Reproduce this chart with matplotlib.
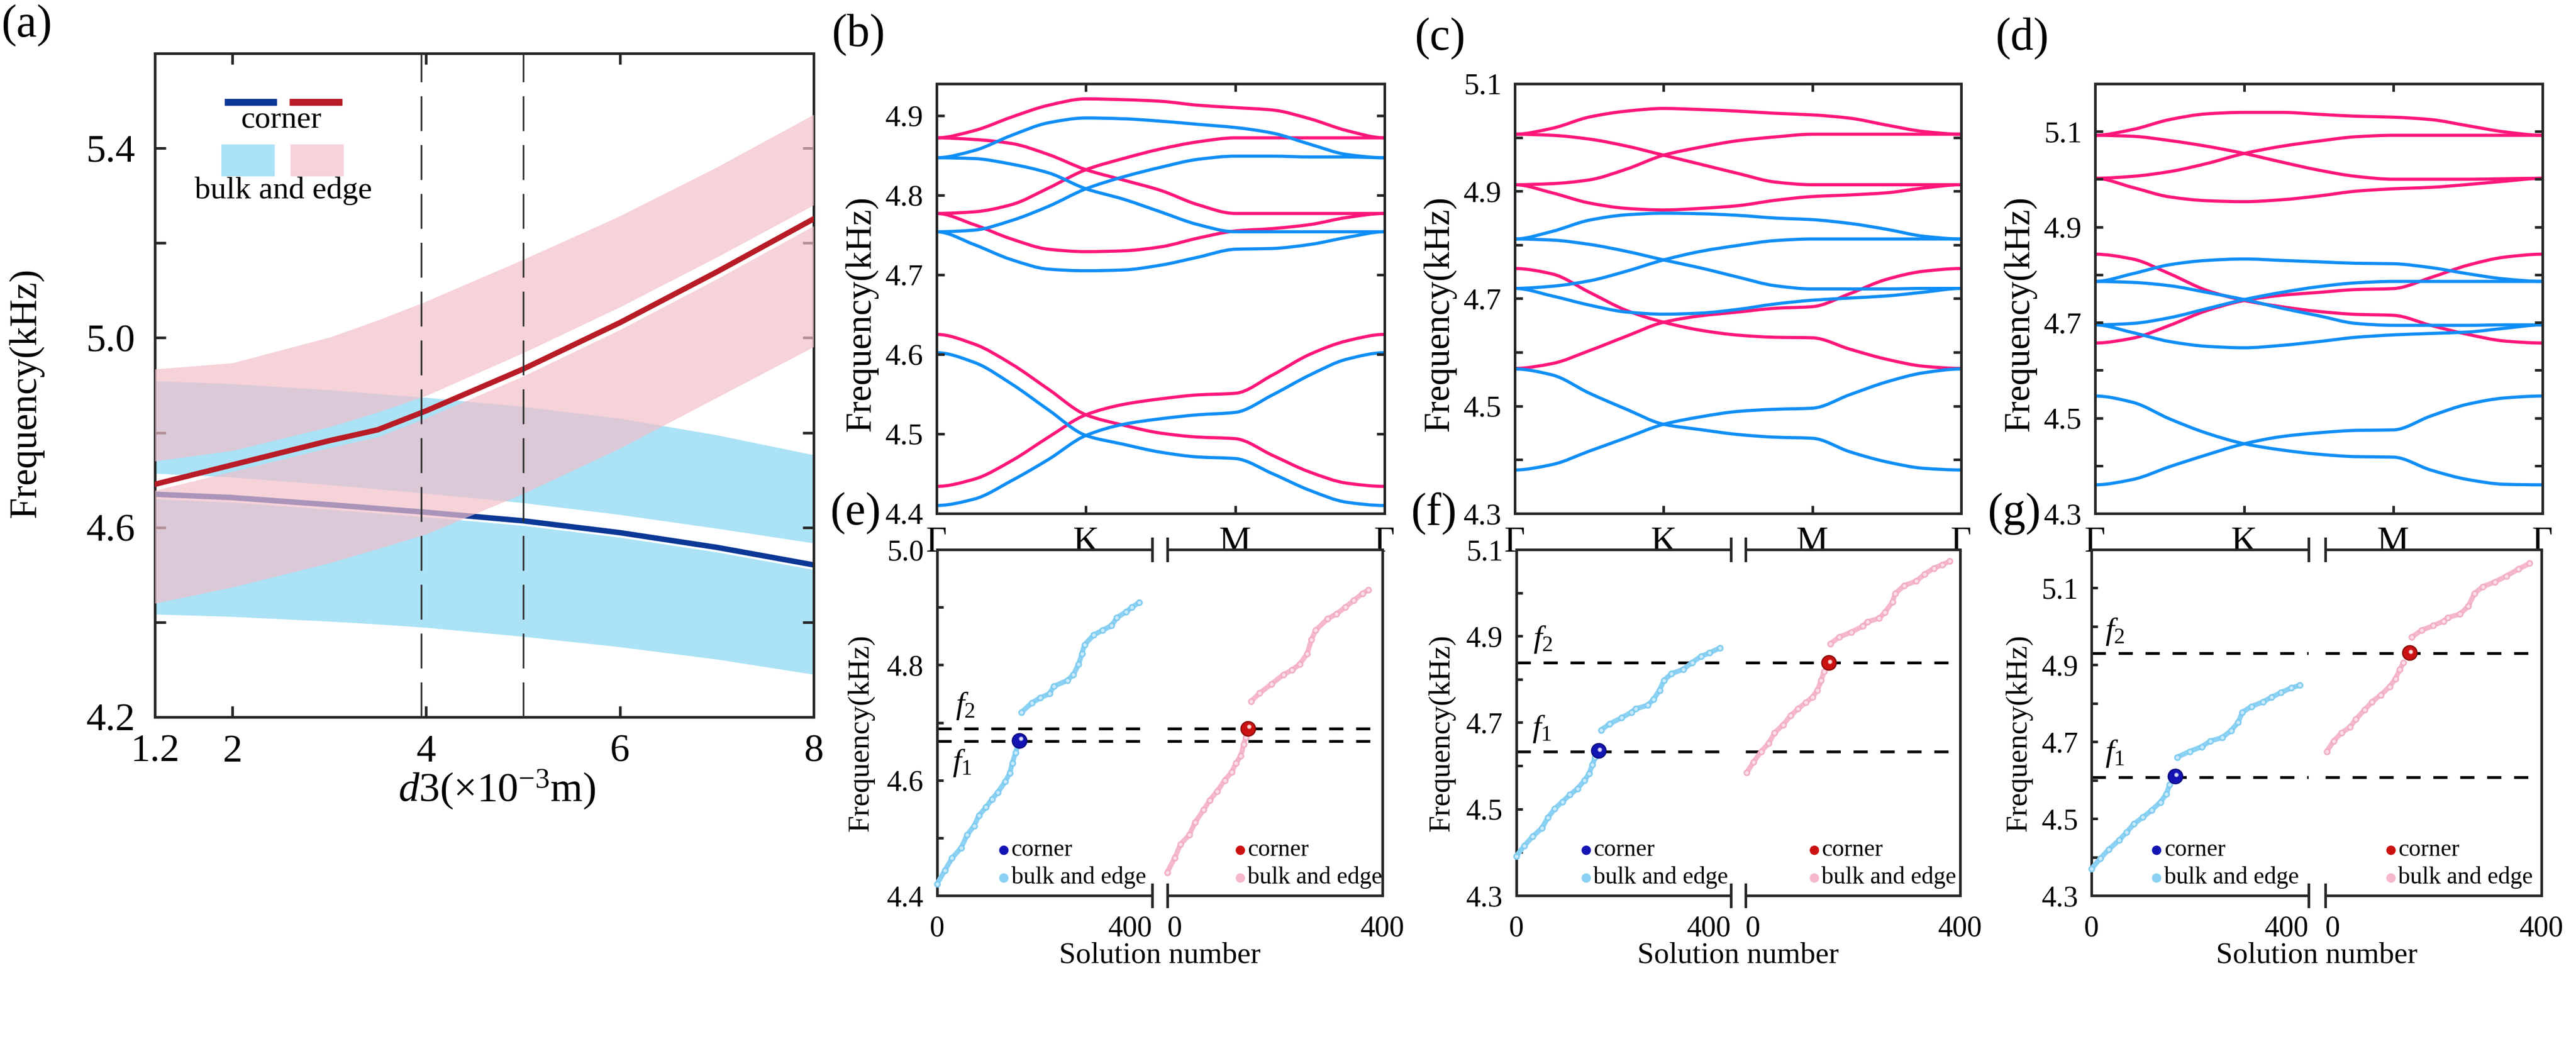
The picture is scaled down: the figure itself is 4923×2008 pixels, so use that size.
import numpy as np
import matplotlib
matplotlib.use("Agg")
import matplotlib.pyplot as plt
from matplotlib.patches import Rectangle, PathPatch
from matplotlib.path import Path

plt.rcParams['font.family'] = ['Liberation Serif', 'DejaVu Serif']
plt.rcParams['mathtext.fontset'] = 'custom'
plt.rcParams['mathtext.rm'] = 'Liberation Serif'
plt.rcParams['mathtext.it'] = 'Liberation Serif:italic'

# ---------------- panel (a) data ----------------
d3 = [1.2, 2, 3, 3.5, 4, 5, 6, 7, 8]
corner_red = [4.691, 4.732, 4.783, 4.806, 4.846, 4.934, 5.032, 5.139, 5.251]
corner_blue = [4.670, 4.663, 4.648, 4.640, 4.632, 4.614, 4.589, 4.558, 4.521]
pink_up_top = [4.934, 4.947, 5.001, 5.037, 5.077, 5.165, 5.257, 5.360, 5.471]
pink_up_bot = [4.740, 4.762, 4.812, 4.843, 4.878, 4.968, 5.065, 5.170, 5.280]
pink_lo_top = [4.678, 4.718, 4.768, 4.791, 4.831, 4.919, 5.017, 5.124, 5.236]
pink_lo_bot = [4.440, 4.474, 4.525, 4.555, 4.586, 4.671, 4.767, 4.874, 4.981]
blue_up_top = [4.909, 4.903, 4.890, 4.882, 4.874, 4.855, 4.830, 4.795, 4.753]
blue_up_bot = [4.714, 4.706, 4.690, 4.681, 4.672, 4.652, 4.627, 4.598, 4.567]
blue_lo_top = [4.660, 4.653, 4.638, 4.630, 4.622, 4.604, 4.579, 4.548, 4.511]
blue_lo_bot = [4.417, 4.412, 4.402, 4.396, 4.389, 4.370, 4.348, 4.322, 4.290]
dash_d3 = [3.95, 5.0]
a_xticks = [1.2, 2, 4, 6, 8]
a_xticklabels = ['1.2', '2', '4', '6', '8']
a_yticks = [4.2, 4.4, 4.6, 4.8, 5.0, 5.2, 5.4]
a_yticklabels = ['4.2', '', '4.6', '', '5.0', '', '5.4']

# ---------------- panels (b)-(d) data ----------------
k_path = [0, 0.25, 0.5, 0.75, 1, 1.25, 1.5, 1.75, 2, 2.25, 2.5, 2.75, 3]
k_ticks = [0, 1, 2, 3]
k_labels = ['Γ', 'K', 'M', 'Γ']

b_pink = [
    [4.872, 4.881, 4.898, 4.913, 4.921, 4.920, 4.918, 4.913, 4.910, 4.907, 4.896, 4.881, 4.872],
    [4.872, 4.870, 4.865, 4.851, 4.832, 4.819, 4.806, 4.788, 4.777, 4.777, 4.777, 4.777, 4.777],
    [4.777, 4.779, 4.788, 4.809, 4.832, 4.846, 4.858, 4.867, 4.872, 4.872, 4.872, 4.872, 4.872],
    [4.777, 4.763, 4.745, 4.732, 4.729, 4.730, 4.735, 4.746, 4.755, 4.758, 4.763, 4.772, 4.777],
    [4.625, 4.613, 4.588, 4.556, 4.524, 4.511, 4.501, 4.496, 4.494, 4.473, 4.452, 4.438, 4.434],
    [4.434, 4.443, 4.466, 4.496, 4.524, 4.537, 4.544, 4.549, 4.551, 4.574, 4.600, 4.617, 4.625],
]
b_blue = [
    [4.847, 4.856, 4.875, 4.891, 4.897, 4.896, 4.893, 4.889, 4.885, 4.878, 4.864, 4.851, 4.847],
    [4.847, 4.846, 4.839, 4.828, 4.808, 4.795, 4.779, 4.763, 4.754, 4.754, 4.754, 4.754, 4.754],
    [4.754, 4.756, 4.768, 4.786, 4.808, 4.823, 4.835, 4.845, 4.849, 4.849, 4.848, 4.848, 4.847],
    [4.754, 4.738, 4.719, 4.707, 4.705, 4.706, 4.712, 4.722, 4.732, 4.733, 4.738, 4.747, 4.754],
    [4.602, 4.590, 4.563, 4.530, 4.498, 4.487, 4.477, 4.471, 4.469, 4.450, 4.429, 4.414, 4.410],
    [4.410, 4.418, 4.441, 4.468, 4.498, 4.512, 4.519, 4.524, 4.527, 4.549, 4.574, 4.594, 4.602],
]
c_pink = [
    [5.006, 5.017, 5.038, 5.049, 5.054, 5.052, 5.049, 5.045, 5.042, 5.036, 5.023, 5.011, 5.006],
    [5.006, 5.004, 4.997, 4.984, 4.967, 4.950, 4.933, 4.917, 4.912, 4.912, 4.912, 4.912, 4.912],
    [4.912, 4.914, 4.921, 4.941, 4.967, 4.982, 4.994, 5.001, 5.006, 5.006, 5.006, 5.006, 5.006],
    [4.912, 4.897, 4.878, 4.868, 4.865, 4.868, 4.873, 4.883, 4.890, 4.893, 4.897, 4.906, 4.912],
    [4.756, 4.746, 4.712, 4.678, 4.656, 4.641, 4.632, 4.628, 4.627, 4.606, 4.587, 4.574, 4.570],
    [4.570, 4.579, 4.603, 4.630, 4.656, 4.668, 4.675, 4.682, 4.685, 4.709, 4.736, 4.751, 4.756],
]
c_blue = [
    [4.811, 4.825, 4.846, 4.856, 4.859, 4.858, 4.855, 4.850, 4.847, 4.840, 4.829, 4.816, 4.811],
    [4.811, 4.809, 4.801, 4.788, 4.772, 4.757, 4.740, 4.724, 4.718, 4.718, 4.718, 4.719, 4.719],
    [4.719, 4.723, 4.733, 4.751, 4.772, 4.788, 4.799, 4.808, 4.811, 4.811, 4.811, 4.811, 4.811],
    [4.719, 4.705, 4.688, 4.675, 4.671, 4.673, 4.680, 4.690, 4.697, 4.701, 4.705, 4.712, 4.719],
    [4.569, 4.558, 4.524, 4.494, 4.466, 4.456, 4.447, 4.442, 4.440, 4.415, 4.396, 4.384, 4.381],
    [4.381, 4.391, 4.416, 4.441, 4.466, 4.480, 4.490, 4.494, 4.496, 4.521, 4.545, 4.562, 4.569],
]
d_pink = [
    [5.092, 5.104, 5.125, 5.137, 5.140, 5.140, 5.136, 5.132, 5.130, 5.125, 5.112, 5.099, 5.092],
    [5.092, 5.090, 5.081, 5.069, 5.054, 5.036, 5.019, 5.006, 5.000, 5.000, 5.000, 5.001, 5.002],
    [5.002, 5.006, 5.016, 5.033, 5.054, 5.069, 5.080, 5.089, 5.092, 5.092, 5.092, 5.092, 5.092],
    [5.002, 4.983, 4.963, 4.955, 4.953, 4.957, 4.965, 4.975, 4.980, 4.983, 4.989, 4.996, 5.002],
    [4.843, 4.833, 4.802, 4.767, 4.746, 4.733, 4.723, 4.717, 4.715, 4.694, 4.675, 4.661, 4.657],
    [4.657, 4.667, 4.694, 4.725, 4.746, 4.757, 4.763, 4.769, 4.771, 4.794, 4.820, 4.837, 4.843],
]
d_blue = [
    [4.786, 4.802, 4.821, 4.830, 4.833, 4.830, 4.827, 4.824, 4.823, 4.815, 4.802, 4.791, 4.786],
    [4.786, 4.784, 4.777, 4.763, 4.748, 4.730, 4.714, 4.698, 4.694, 4.694, 4.694, 4.695, 4.695],
    [4.695, 4.698, 4.710, 4.729, 4.748, 4.763, 4.775, 4.783, 4.786, 4.786, 4.786, 4.786, 4.786],
    [4.695, 4.679, 4.660, 4.650, 4.647, 4.652, 4.660, 4.669, 4.674, 4.677, 4.680, 4.688, 4.695],
    [4.546, 4.533, 4.498, 4.468, 4.446, 4.433, 4.424, 4.419, 4.418, 4.391, 4.371, 4.361, 4.360],
    [4.360, 4.371, 4.398, 4.423, 4.446, 4.461, 4.469, 4.474, 4.475, 4.504, 4.529, 4.542, 4.546],
]

# ---------------- panels (e)-(g) data ----------------
e_blue_lo_n = [0, 15, 28, 45, 56, 69, 78, 91, 102, 113, 127, 135, 140, 146, 150]
e_blue_lo_f = [4.420, 4.444, 4.465, 4.483, 4.505, 4.521, 4.539, 4.553, 4.567, 4.579, 4.598, 4.612, 4.630, 4.648, 4.660]
e_blue_up_n = [157, 176, 192, 209, 217, 242, 253, 263, 269, 274, 291, 307, 324, 334, 351, 362, 375]
e_blue_up_f = [4.718, 4.734, 4.743, 4.750, 4.763, 4.773, 4.783, 4.801, 4.819, 4.835, 4.852, 4.860, 4.868, 4.882, 4.892, 4.900, 4.908]
e_blue_corner = (153, 4.669)
e_pink_lo_n = [0, 14, 25, 41, 52, 68, 79, 93, 107, 120, 128, 137, 142, 146]
e_pink_lo_f = [4.440, 4.465, 4.489, 4.505, 4.527, 4.549, 4.565, 4.581, 4.600, 4.614, 4.630, 4.642, 4.662, 4.674]
e_pink_up_n = [156, 172, 194, 216, 232, 246, 260, 268, 276, 298, 314, 331, 347, 363, 374]
e_pink_up_f = [4.737, 4.751, 4.767, 4.783, 4.791, 4.801, 4.819, 4.844, 4.860, 4.880, 4.888, 4.900, 4.912, 4.924, 4.930]
e_red_corner = (150, 4.690)
e_f1, e_f2 = 4.668, 4.690

f_blue_lo_n = [0, 15, 31, 48, 59, 72, 86, 100, 114, 127, 136, 142, 147]
f_blue_lo_f = [4.391, 4.415, 4.437, 4.456, 4.480, 4.501, 4.517, 4.533, 4.547, 4.566, 4.582, 4.603, 4.619]
f_blue_up_n = [158, 174, 196, 215, 223, 245, 256, 267, 275, 289, 311, 328, 344, 360, 380]
f_blue_up_f = [4.683, 4.697, 4.711, 4.724, 4.732, 4.740, 4.754, 4.775, 4.797, 4.813, 4.823, 4.839, 4.853, 4.861, 4.873]
f_blue_corner = (153, 4.635)
f_pink_lo_n = [2, 15, 29, 43, 54, 70, 84, 98, 112, 125, 134, 141, 146]
f_pink_lo_f = [4.584, 4.609, 4.633, 4.652, 4.676, 4.695, 4.716, 4.732, 4.746, 4.759, 4.775, 4.797, 4.818]
f_pink_up_n = [158, 175, 197, 219, 227, 249, 260, 274, 279, 296, 318, 334, 351, 367, 381]
f_pink_up_f = [4.882, 4.898, 4.909, 4.923, 4.933, 4.941, 4.955, 4.979, 4.998, 5.017, 5.027, 5.043, 5.057, 5.065, 5.073]
f_red_corner = (155, 4.838)
f_f1, f_f2 = 4.633, 4.839

g_blue_lo_n = [0, 16, 32, 51, 65, 78, 95, 111, 127, 138, 144]
g_blue_lo_f = [4.369, 4.396, 4.420, 4.444, 4.465, 4.486, 4.504, 4.522, 4.543, 4.564, 4.588]
g_blue_up_n = [158, 181, 203, 219, 241, 257, 270, 278, 295, 316, 332, 349, 368, 384]
g_blue_up_f = [4.660, 4.675, 4.687, 4.702, 4.711, 4.729, 4.750, 4.777, 4.792, 4.804, 4.816, 4.828, 4.840, 4.847]
g_blue_corner = (154, 4.611)
g_pink_lo_n = [3, 16, 30, 46, 57, 73, 87, 103, 119, 130, 138, 145]
g_pink_lo_f = [4.675, 4.702, 4.723, 4.738, 4.759, 4.783, 4.804, 4.822, 4.843, 4.864, 4.888, 4.906]
g_pink_up_n = [160, 178, 200, 219, 227, 249, 265, 276, 292, 314, 335, 357, 378]
g_pink_up_f = [4.972, 4.990, 5.002, 5.014, 5.023, 5.032, 5.053, 5.086, 5.104, 5.116, 5.131, 5.149, 5.164]
g_red_corner = (156, 4.932)
g_f1, g_f2 = 4.608, 4.930

# ---------------- figure ----------------
W, H, DPI = 4923, 2008, 300
fig = plt.figure(figsize=(W / DPI, H / DPI), dpi=DPI)

SPINE = '#262626'
BAND_BLUE = '#abe2f6'
BAND_PINK = '#f2bfc9'
LINE_BLUE = '#0b3896'
LINE_RED = '#b81c26'
BS_PINK = '#ff1679'
BS_BLUE = '#0f8ef7'
SC_BLUE = '#8ad1f3'
SC_BLUE_E = '#78c8ef'
SC_PINK = '#f5b7cc'
SC_PINK_E = '#efa8c1'
C_BLUE = '#1414b4'
C_RED = '#cc1111'


def rect(l, r, t, b):
    return [l / W, 1 - b / H, (r - l) / W, (b - t) / H]


def style(ax, lw=1.2):
    for s in ax.spines.values():
        s.set_color(SPINE)
        s.set_linewidth(lw)


def plabel(x, y, s):
    fig.text(x / W, 1 - y / H, s, fontsize=21, ha='left', va='center')


def smooth_curve(ax, x, y, color, lw):
    """Draw a smooth (monotone cubic) curve through the given points."""
    x = np.asarray(x, float)
    y = np.asarray(y, float)
    h = np.diff(x)
    d = np.diff(y) / h
    m = np.zeros_like(y)
    with np.errstate(divide='ignore', invalid='ignore'):
        same = d[:-1] * d[1:] > 0
        hm = 2.0 / (1.0 / d[:-1] + 1.0 / d[1:])
    m[1:-1] = np.where(same, hm, 0.0)
    verts = [(x[0], y[0])]
    codes = [Path.MOVETO]
    for i in range(len(x) - 1):
        verts += [(x[i] + h[i] / 3, y[i] + m[i] * h[i] / 3),
                  (x[i + 1] - h[i] / 3, y[i + 1] - m[i + 1] * h[i] / 3),
                  (x[i + 1], y[i + 1])]
        codes += [Path.CURVE4] * 3
    ax.add_patch(PathPatch(Path(verts, codes), fill=False, edgecolor=color, lw=lw,
                           capstyle='round', joinstyle='round'))


# ---------------- (a) ----------------
axA = fig.add_axes(rect(296, 1555, 102, 1370))
style(axA)
axA.fill_between(d3, blue_up_bot, blue_up_top, color=BAND_BLUE, lw=0, zorder=1)
axA.fill_between(d3, blue_lo_bot, blue_lo_top, color=BAND_BLUE, lw=0, zorder=1)
axA.plot(d3, corner_blue, color=LINE_BLUE, lw=2.5, zorder=2)
axA.fill_between(d3, pink_up_bot, pink_up_top, color=BAND_PINK, alpha=0.69, lw=0, zorder=3)
axA.fill_between(d3, pink_lo_bot, pink_lo_top, color=BAND_PINK, alpha=0.69, lw=0, zorder=3)
axA.plot(d3, corner_red, color=LINE_RED, lw=2.5, zorder=4)
for xv in dash_d3:
    axA.axvline(xv, color='#333333', lw=0.8, dashes=(20, 8), zorder=5)
axA.set_xlim(1.2, 8)
axA.set_ylim(4.2, 5.6)
axA.set_xticks(a_xticks)
axA.set_xticklabels(a_xticklabels)
axA.set_yticks(a_yticks)
axA.set_yticklabels(a_yticklabels)
axA.tick_params(direction='in', top=True, right=True, length=5, width=1.2,
                color=SPINE, labelsize=18, pad=8)
axA.tick_params(axis='y', pad=9)
axA.text(0.519, -0.11, r'$d$3(×10$^{-3}$m)', transform=axA.transAxes,
         ha='center', va='center', fontsize=19)
axA.text(-0.195, 0.489, 'Frequency(kHz)', transform=axA.transAxes, rotation=90,
         ha='center', va='center', fontsize=17.5)
tA = axA.transAxes
axA.plot([0.106, 0.185], [0.927, 0.927], color=LINE_BLUE, lw=3.2, transform=tA,
         solid_capstyle='butt', zorder=6)
axA.plot([0.204, 0.284], [0.927, 0.927], color=LINE_RED, lw=3.2, transform=tA,
         solid_capstyle='butt', zorder=6)
axA.text(0.192, 0.899, 'corner', transform=tA, ha='center', va='center', fontsize=14.5)
axA.add_patch(Rectangle((0.101, 0.815), 0.081, 0.048, transform=tA, color=BAND_BLUE, lw=0))
axA.add_patch(Rectangle((0.206, 0.815), 0.081, 0.048, transform=tA, color=BAND_PINK,
                        alpha=0.69, lw=0))
axA.text(0.195, 0.793, 'bulk and edge', transform=tA, ha='center', va='center', fontsize=14.5)
plabel(2, 49, '(a)')


# ---------------- (b)-(d) ----------------
def band_panel(box, pinks, blues, ylim, yticks, ylabels, lab, labxy):
    ax = fig.add_axes(rect(*box))
    style(ax)
    for yb in pinks:
        smooth_curve(ax, k_path, yb, BS_PINK, 1.45)
    for yb in blues:
        smooth_curve(ax, k_path, yb, BS_BLUE, 1.45)
    ax.set_xlim(0, 3)
    ax.set_ylim(*ylim)
    ax.set_xticks(k_ticks)
    ax.set_xticklabels(k_labels, fontsize=16.5)
    ax.set_yticks(yticks)
    ax.set_yticklabels(ylabels, fontsize=14)
    ax.tick_params(direction='in', top=True, right=True, length=3.5, width=1.2,
                   color=SPINE)
    ax.tick_params(axis='x', pad=6)
    ax.tick_params(axis='y', pad=6)
    ax.text(-0.168, 0.464, 'Frequency(kHz)', transform=ax.transAxes, rotation=90,
            ha='center', va='center', fontsize=16.5)
    plabel(labxy[0], labxy[1], lab)
    return ax


band_panel((1790, 2646, 160, 981), b_pink, b_blue, (4.4, 4.94),
           [4.4, 4.5, 4.6, 4.7, 4.8, 4.9], ['4.4', '4.5', '4.6', '4.7', '4.8', '4.9'],
           '(b)', (1589, 67))
band_panel((2895, 3748, 160, 981), c_pink, c_blue, (4.3, 5.1),
           [4.3, 4.4, 4.5, 4.6, 4.7, 4.8, 4.9, 5.0, 5.1],
           ['4.3', '', '4.5', '', '4.7', '', '4.9', '', '5.1'],
           '(c)', (2703, 74))
band_panel((4004, 4859, 160, 981), d_pink, d_blue, (4.3, 5.2),
           [4.3, 4.4, 4.5, 4.6, 4.7, 4.8, 4.9, 5.0, 5.1],
           ['4.3', '', '4.5', '', '4.7', '', '4.9', '', '5.1'],
           '(d)', (3813, 74))


# ---------------- (e)-(g) ----------------
def series(ax, n, f, col, ecol):
    ax.plot(n, f, color=col, lw=2.3, solid_capstyle='round', solid_joinstyle='round',
            clip_on=False, zorder=3)
    ax.plot(n, f, 'o', ms=2.7, mfc=col, mec=ecol, mew=0.35, clip_on=False, zorder=4)
    ax.plot(n, f, 'o', ms=0.5, color='white', alpha=0.6, clip_on=False, zorder=5)


def corner(ax, pt, col, ecol):
    ax.plot([pt[0]], [pt[1]], 'o', ms=6.6, mfc=col, mec=ecol, mew=0.6, zorder=6)
    ax.plot([pt[0] + 2.5], [pt[1] + 0.003], 'o', ms=1.0, color='white', alpha=0.7, zorder=7)


def legend_manual(ax, xm, ccol, bcol):
    t = ax.transAxes
    ax.plot([xm], [0.132], 'o', ms=3.3, color=ccol, transform=t, clip_on=False, zorder=8)
    ax.plot([xm], [0.052], 'o', ms=3.3, color=bcol, transform=t, clip_on=False, zorder=8)
    ax.text(xm + 0.035, 0.132, 'corner', transform=t, ha='left', va='center', fontsize=11)
    ax.text(xm + 0.035, 0.052, 'bulk and edge', transform=t, ha='left', va='center',
            fontsize=11)


def bottom_panel(l, bl, br, r, ylim, yticks, ylabels, blo, bup, bc, plo, pup, pc,
                 f1, f2, f1pos, f2pos, legx, ylab_x, lab, labx):
    T, B = 1050, 1711
    axL = fig.add_axes(rect(l, bl, T, B))
    axR = fig.add_axes(rect(br, r, T, B))
    for ax in (axL, axR):
        style(ax)
        ax.set_xlim(0, 400)
        ax.set_ylim(*ylim)
        ax.set_xticks([0, 400])
        ax.set_xticklabels(['0', '400'], fontsize=13.5)
        ax.tick_params(axis='x', length=0, pad=9)
        ax.axhline(f1, color='black', lw=1.3, dashes=(5, 4.5), zorder=2)
        ax.axhline(f2, color='black', lw=1.3, dashes=(5, 4.5), zorder=2)
    axL.spines['right'].set_visible(False)
    axR.spines['left'].set_visible(False)
    axL.set_yticks(yticks)
    axL.set_yticklabels(ylabels, fontsize=13.5)
    axL.tick_params(axis='y', direction='in', length=2.8, width=1.2, color=SPINE, pad=6)
    axR.tick_params(axis='y', left=False, labelleft=False)
    axL.get_xticklabels()[1].set_ha('right')
    axR.get_xticklabels()[0].set_ha('left')
    for ax, xe in ((axL, 1), (axR, 0)):
        for yy in (0, 1):
            ax.plot([xe, xe], [yy - 0.032, yy + 0.032], color=SPINE, lw=1.2,
                    transform=ax.transAxes, clip_on=False, zorder=9)
    series(axL, blo[0], blo[1], SC_BLUE, SC_BLUE_E)
    series(axL, bup[0], bup[1], SC_BLUE, SC_BLUE_E)
    corner(axL, bc, C_BLUE, '#0a0a80')
    series(axR, plo[0], plo[1], SC_PINK, SC_PINK_E)
    series(axR, pup[0], pup[1], SC_PINK, SC_PINK_E)
    corner(axR, pc, C_RED, '#8a0a0a')
    axL.text(f2pos[0], f2pos[1], r'$f_2$', fontsize=14.5, ha='center', va='center')
    axL.text(f1pos[0], f1pos[1], r'$f_1$', fontsize=14.5, ha='center', va='center')
    legend_manual(axL, legx[0], C_BLUE, SC_BLUE)
    legend_manual(axR, legx[1], C_RED, SC_PINK)
    axL.text(ylab_x, 0.47, 'Frequency(kHz)', transform=axL.transAxes, rotation=90,
             ha='center', va='center', fontsize=13.8)
    fig.text(((bl + br) / 2) / W, 1 - 1826 / H, 'Solution number', ha='center',
             va='center', fontsize=13.8)
    plabel(labx, 981, lab)


bottom_panel(1790.6, 2202.4, 2230.5, 2642, (4.4, 5.0),
             [4.4, 4.5, 4.6, 4.7, 4.8, 4.9, 5.0],
             ['4.4', '', '4.6', '', '4.8', '', '5.0'],
             (e_blue_lo_n, e_blue_lo_f), (e_blue_up_n, e_blue_up_f), e_blue_corner,
             (e_pink_lo_n, e_pink_lo_f), (e_pink_up_n, e_pink_up_f), e_red_corner,
             e_f1, e_f2, (47, 4.630), (53, 4.729), (0.31, 0.339), -0.354, '(e)', 1586)
bottom_panel(2897.6, 3308, 3336, 3745.8, (4.3, 5.1),
             [4.3, 4.4, 4.5, 4.6, 4.7, 4.8, 4.9, 5.0, 5.1],
             ['4.3', '', '4.5', '', '4.7', '', '4.9', '', '5.1'],
             (f_blue_lo_n, f_blue_lo_f), (f_blue_up_n, f_blue_up_f), f_blue_corner,
             (f_pink_lo_n, f_pink_lo_f), (f_pink_up_n, f_pink_up_f), f_red_corner,
             f_f1, f_f2, (48, 4.686), (50, 4.893), (0.325, 0.32), -0.347, '(f)', 2696)
bottom_panel(3996.9, 4412, 4443.5, 4857, (4.3, 5.2),
             [4.3, 4.4, 4.5, 4.6, 4.7, 4.8, 4.9, 5.0, 5.1],
             ['4.3', '', '4.5', '', '4.7', '', '4.9', '', '5.1'],
             (g_blue_lo_n, g_blue_lo_f), (g_blue_up_n, g_blue_up_f), g_blue_corner,
             (g_pink_lo_n, g_pink_lo_f), (g_pink_up_n, g_pink_up_f), g_red_corner,
             g_f1, g_f2, (43, 4.669), (43, 4.987), (0.30, 0.303), -0.333, '(g)', 3798)

fig.savefig('out.png', dpi=DPI)
